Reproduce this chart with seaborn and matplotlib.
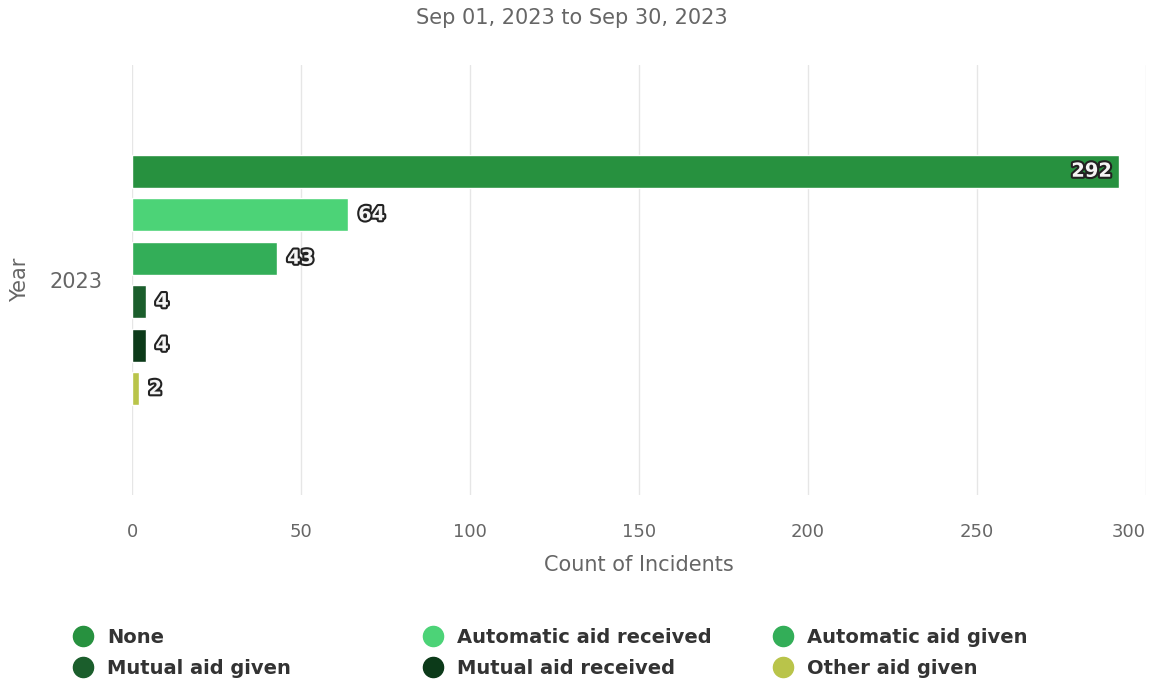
import matplotlib
matplotlib.use("Agg")
import matplotlib.pyplot as plt
import matplotlib.patheffects as pe
from matplotlib.lines import Line2D
import pandas as pd
import seaborn as sns

years = ["2023"]
aid_types = ["None", "Automatic aid received", "Automatic aid given",
             "Mutual aid given", "Mutual aid received", "Other aid given"]
counts = [292, 64, 43, 4, 4, 2]
colors = ["#27913f", "#4cd377", "#33ae58", "#1b5e2c", "#0c3a19", "#b9c44a"]

df = pd.DataFrame({"Year": years * len(aid_types), "Aid": aid_types, "Count": counts})

sns.set_style("white")
plt.rcParams["font.family"] = ["DejaVu Sans"]

fig = plt.figure(figsize=(11.51, 6.84), dpi=100)
ax = fig.add_axes([0.1147, 0.2763, 0.881, 0.6287])

sns.barplot(data=df, y="Year", x="Count", hue="Aid", hue_order=aid_types,
            palette=colors, orient="h", width=0.607, gap=0.24,
            saturation=1, legend=False, ax=ax)

ax.set_xlim(0, 300)
ax.set_ylim(0.5, -0.5)
ax.set_xticks(range(0, 301, 50))
ax.grid(axis="x", color="#e6e6e6", linewidth=1)
ax.set_axisbelow(True)
for s in ax.spines.values():
    s.set_visible(False)
ax.tick_params(axis="both", length=0, colors="#666666")
ax.tick_params(axis="x", pad=20, labelsize=13)
ax.tick_params(axis="y", pad=21, labelsize=15)
ax.get_xticklabels()[-1].set_horizontalalignment("right")
ax.set_xlabel("Count of Incidents", color="#666666", fontsize=15, labelpad=10)
ax.set_ylabel("Year", color="#666666", fontsize=15, labelpad=14)
fig.text(0.497, 0.974, "Sep 01, 2023 to Sep 30, 2023", color="#666666",
         fontsize=15, ha="center", va="center")

outline = [pe.withStroke(linewidth=3, foreground="#222222")]
for container in ax.containers:
    for bar in container:
        w = bar.get_width()
        yc = bar.get_y() + bar.get_height() / 2
        inside = w > 250
        ax.annotate(f"{int(w)}", (w, yc), xytext=(-5 if inside else 7, 0),
                    textcoords="offset points", ha="right" if inside else "left",
                    va="center", fontsize=14, fontweight="bold", color="#f4f4f4",
                    path_effects=outline)

def handle(c):
    return Line2D([], [], marker="o", linestyle="", markersize=14.5,
                  markerfacecolor=c, markeredgecolor=c)

col_x = [0.055, 0.359, 0.663]
for i, x in enumerate(col_x):
    idx = [i, i + 3]
    fig.legend([handle(colors[j]) for j in idx], [aid_types[j] for j in idx],
               loc="upper left", bbox_to_anchor=(x, 0.096), frameon=False,
               handletextpad=0.75, labelspacing=0.6, handlelength=1.0,
               borderpad=0, prop={"size": 14, "weight": "bold"},
               labelcolor="#333333")

fig.savefig("out.png", dpi=100)
